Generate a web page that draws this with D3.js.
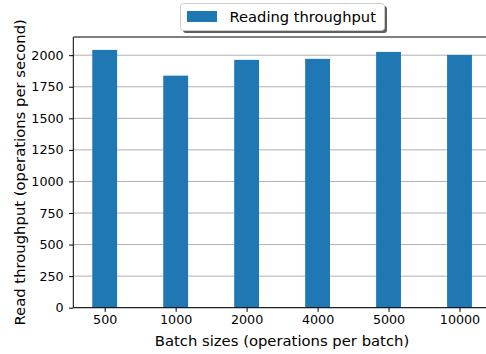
<!DOCTYPE html>
<html><head><meta charset="utf-8">
<script src="https://cdn.jsdelivr.net/npm/d3@7"></script>
<style>html,body{margin:0;padding:0;background:#fff;overflow:hidden}svg{display:block}</style>
</head><body>
<script>
const categories = ["500","1000","2000","4000","5000","10000"];
const values = [2042, 1838, 1963, 1971, 2026, 2002];
const yTicks = [0,250,500,750,1000,1250,1500,1750,2000];
const seriesName = "Reading throughput";
const xTitle = "Batch sizes (operations per batch)";
const yTitle = "Read throughput (operations per second)";

(function(){
const W=486,H=354;
const pL=73.3, pR=490.9, pT=37, pB=307.7;
const font="DejaVu Sans";
const svg=d3.select("body").append("svg").attr("width",W).attr("height",H);
const barW=0.35;
const x=d3.scaleLinear().domain([-0.4425, categories.length-1+0.4425]).range([pL,pR]);
const y=d3.scaleLinear().domain([0,2144]).range([pB,pT]);

// grid
svg.append("g").selectAll("line").data(yTicks).join("line")
 .attr("x1",pL).attr("x2",pR).attr("y1",d=>y(d)).attr("y2",d=>y(d))
 .attr("stroke","#b0b0b0").attr("stroke-width",1);

// bars
svg.append("g").selectAll("rect").data(values).join("rect")
 .attr("x",(d,i)=>x(i-barW/2)).attr("width",(d,i)=>x(i+barW/2)-x(i-barW/2))
 .attr("y",d=>y(d)).attr("height",d=>y(0)-y(d)).attr("fill","#1f77b4");

// axes
const yAxis=d3.axisLeft(y).tickValues(yTicks).tickSize(4.2).tickPadding(5.5).tickFormat(d3.format("d"));
const gy=svg.append("g").attr("transform",`translate(${pL},0)`).call(yAxis);
const xAxis=d3.axisBottom(x).tickValues(d3.range(categories.length)).tickSize(4.2).tickPadding(3.5).tickFormat(i=>categories[i]);
const gx=svg.append("g").attr("transform",`translate(0,${pB})`).call(xAxis);
[gx,gy].forEach(g=>{g.select(".domain").remove();g.selectAll("text").attr("font-family",font).attr("font-size",12.7).attr("fill","#000");g.selectAll("line").attr("stroke","#000").attr("stroke-width",1);});

// spines
svg.append("line").attr("x1",pL).attr("x2",pL).attr("y1",pT).attr("y2",pB).attr("stroke","#000").attr("stroke-width",1);
svg.append("line").attr("x1",pL).attr("x2",pR).attr("y1",pB).attr("y2",pB).attr("stroke","#000").attr("stroke-width",1);
svg.append("line").attr("x1",pL).attr("x2",pR).attr("y1",pT).attr("y2",pT).attr("stroke","#000").attr("stroke-width",1);
svg.append("line").attr("x1",pR).attr("x2",pR).attr("y1",pT).attr("y2",pB).attr("stroke","#000").attr("stroke-width",1);

// titles
svg.append("text").attr("x",282).attr("y",345.5).attr("text-anchor","middle")
 .attr("font-family",font).attr("font-size",14.8).text(xTitle);
svg.append("text").attr("transform",`translate(25,${(pT+pB)/2}) rotate(-90)`).attr("text-anchor","middle")
 .attr("font-family",font).attr("font-size",14.8).text(yTitle);

// legend
const lg=svg.append("g");
const lx=180.5, ly=3.5, lw=204, lh=27;
lg.append("rect").attr("x",lx+2.5).attr("y",ly+2.5).attr("width",lw).attr("height",lh).attr("rx",3).attr("fill","#444").attr("opacity",0.85);
lg.append("rect").attr("x",lx).attr("y",ly).attr("width",lw).attr("height",lh).attr("rx",3).attr("fill","#fff").attr("stroke","#ccc");
lg.append("rect").attr("x",187).attr("y",11).attr("width",30).attr("height",11).attr("fill","#1f77b4");
lg.append("text").attr("x",229.5).attr("y",22).attr("font-family",font).attr("font-size",14.7).text(seriesName);
})();
</script>
</body></html>
